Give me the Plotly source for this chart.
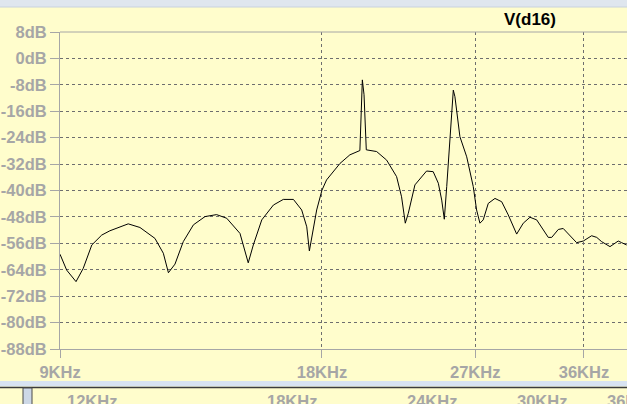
import plotly.graph_objects as go

# ---- data ----
freq_khz = [9.00, 9.16, 9.39, 9.57, 9.79, 10.05, 10.27, 10.78, 11.12, 11.57,
            11.83, 11.99, 12.20, 12.47, 12.81, 13.21, 13.62, 13.99, 14.49, 14.81,
            15.01, 15.35, 15.83, 16.25, 16.69, 17.06, 17.29, 17.41, 17.75, 18.00,
            18.22, 18.88, 19.38, 19.87, 19.90, 20.03, 20.12, 20.24, 20.26, 20.80,
            21.36, 21.93, 22.22, 22.44, 22.62, 23.02, 23.74, 24.16, 24.49, 24.71,
            24.88, 25.04, 25.26, 25.48, 25.59, 25.93, 26.40, 26.86, 27.10, 27.34,
            27.58, 27.95, 28.45, 28.96, 29.47, 30.13, 30.66, 31.21, 31.77, 32.76,
            33.06, 33.64, 34.08, 34.69, 35.31, 35.94, 36.74, 37.24, 37.73, 38.57,
            38.91, 39.42, 39.78, 40.31]
mag_db = [-59.3, -64.1, -67.6, -63.6, -56.5, -53.5, -52.2, -50.1, -51.2, -54.5,
          -59.0, -64.9, -62.3, -55.5, -50.4, -47.9, -47.3, -48.4, -53.0, -61.9,
          -56.5, -48.9, -44.4, -42.7, -42.7, -45.9, -51.0, -58.3, -45.9, -39.9,
          -36.8, -31.8, -29.2, -27.9, -27.9, -6.5, -11.0, -27.7, -27.7, -28.2,
          -30.8, -35.8, -41.9, -49.9, -46.9, -38.3, -34.1, -34.3, -37.8, -42.9,
          -48.7, -38.8, -23.7, -9.6, -11.6, -23.7, -29.8, -38.8, -45.9, -49.9,
          -48.9, -43.9, -42.4, -43.4, -47.4, -53.2, -49.9, -48.1, -48.9, -54.2,
          -54.2, -51.8, -51.5, -53.5, -55.8, -55.3, -53.7, -54.2, -55.5, -57.0,
          -56.3, -55.3, -55.8, -56.5]

x_ticks = [9, 18, 27, 36]
x_ticktext = ["9KHz", "18KHz", "27KHz", "36KHz"]
y_ticks = list(range(8, -89, -8))
y_ticktext = [f"{v}dB" for v in y_ticks]
trace_name = "V(d16)"
lower_pane_ticks = ["12KHz", "18KHz", "24KHz", "30KHz", "36KHz"]
lower_pane_px = [92, 292, 432, 542, 632]

W, H = 627, 404
L, R, T, B = 60, 0, 32, 55
PW, PH = W - L - R, H - T - B
BG = "#fffdcc"
GRAY = "#a6a6a6"

def px_x(px):
    return (px - L) / PW

def px_y(py):
    return (H - B - py) / PH

fig = go.Figure(go.Scatter(x=freq_khz, y=mag_db, mode="lines",
                           line=dict(color="black", width=1), name=trace_name,
                           showlegend=False))

tickfont = dict(family="Liberation Sans, Arial, sans-serif", size=16.5,
                color=GRAY, weight="bold")

fig.update_xaxes(type="log", range=[0.95424, 1.6058], tickvals=x_ticks,
                 ticktext=x_ticktext, tickfont=tickfont, ticks="outside",
                 ticklen=8, tickcolor=GRAY, showline=True, linecolor=GRAY,
                 linewidth=1, showgrid=True, gridcolor="#6e6e6e",
                 griddash="3px,3px", gridwidth=1, zeroline=False)
fig.update_yaxes(range=[-88, 8], tickvals=y_ticks, ticktext=y_ticktext,
                 tickfont=tickfont, ticks="outside", ticklen=9, tickcolor=GRAY,
                 showline=True, linecolor=GRAY, linewidth=1, showgrid=True,
                 gridcolor="#6e6e6e", griddash="3px,3px", gridwidth=1,
                 zeroline=False)

shapes = [
    # solid top border of the plot
    dict(type="line", xref="paper", yref="paper", x0=0, x1=1, y0=1, y1=1,
         line=dict(color=GRAY, width=1)),
    # top window strip
    dict(type="rect", xref="paper", yref="paper", x0=px_x(0), x1=px_x(W),
         y0=px_y(0), y1=px_y(7), fillcolor="#dfe6ee", line=dict(width=0)),
    dict(type="line", xref="paper", yref="paper", x0=px_x(0), x1=px_x(W),
         y0=px_y(7), y1=px_y(7), line=dict(color="#c8d2de", width=1)),
    # splitter between panes
    dict(type="rect", xref="paper", yref="paper", x0=px_x(0), x1=px_x(W),
         y0=px_y(381), y1=px_y(386.5), fillcolor="#d8e3f1", line=dict(width=0)),
    dict(type="line", xref="paper", yref="paper", x0=px_x(0), x1=px_x(W),
         y0=px_y(387.5), y1=px_y(387.5), line=dict(color="#3c3c3c", width=1.5)),
    dict(type="rect", xref="paper", yref="paper", x0=px_x(23), x1=px_x(32),
         y0=px_y(388), y1=px_y(420), fillcolor="#cdd8e6",
         line=dict(color="#4a4a4a", width=1)),
]

annotations = [
    dict(text=f"<b>{trace_name}</b>", xref="paper", yref="paper",
         x=px_x(530), y=px_y(19), showarrow=False, xanchor="center",
         yanchor="middle",
         font=dict(family="Liberation Sans, Arial, sans-serif", size=17,
                   color="black")),
]
for txt, px in zip(lower_pane_ticks, lower_pane_px):
    annotations.append(dict(text=txt, xref="paper", yref="paper", x=px_x(px),
                            y=px_y(401), showarrow=False, xanchor="center",
                            yanchor="middle", font=tickfont))

fig.update_layout(width=W, height=H, margin=dict(l=L, r=R, t=T, b=B, pad=0),
                  paper_bgcolor=BG, plot_bgcolor=BG, shapes=shapes,
                  annotations=annotations, showlegend=False)

fig.write_html("out.html", config={"displayModeBar": False},
               post_script="document.body.style.margin='0';"
                           "document.body.style.overflow='hidden';")
